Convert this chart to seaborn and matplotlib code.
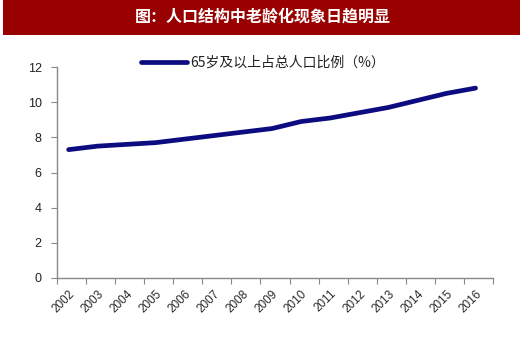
import matplotlib
matplotlib.use("Agg")
import matplotlib.pyplot as plt
import seaborn as sns
import pandas as pd
import numpy as np
from matplotlib.patches import Rectangle

years = ["2002", "2003", "2004", "2005", "2006", "2007", "2008", "2009",
         "2010", "2011", "2012", "2013", "2014", "2015", "2016"]
ratio = [7.3, 7.5, 7.6, 7.7, 7.9, 8.1, 8.3, 8.5, 8.9, 9.1, 9.4, 9.7, 10.1, 10.5, 10.8]
series_name = "65岁及以上占总人口比例（%）"
title = "图：人口结构中老龄化现象日趋明显"
yticks = [0, 2, 4, 6, 8, 10, 12]

sns.set_theme(style="white")
plt.rcParams['font.family'] = ['Noto Sans CJK SC', 'DejaVu Sans']
num_font = ['Liberation Sans', 'DejaVu Sans']

df = pd.DataFrame({"pos": np.arange(len(years)), "val": ratio, "s": series_name})

fig = plt.figure(figsize=(5.2, 3.42), dpi=100)
fig.patch.set_facecolor("white")
fig.patches.append(Rectangle((3/520, 1-35/342), 517/520, 35/342, transform=fig.transFigure,
                             facecolor="#990000", edgecolor="none", zorder=0))
fig.text(263/520, 1-17/342, title, color="white", fontsize=11.5, fontweight="bold",
         ha="center", va="center")

ax = fig.add_axes([57/520, 1-278/342, (493-57)/520, (278-67)/342])
sns.lineplot(data=df, x="pos", y="val", hue="s", palette=["#0c0c80"], linewidth=3.4,
             ax=ax, legend=True)
ax.set_xlim(-0.4, 14.6)
ax.set_ylim(0, 12)
ax.set_yticks(yticks)
ax.set_yticklabels([str(v) for v in yticks], fontsize=9, color="#222222", family=num_font)
ax.set_xticks(np.arange(len(years)))
ax.set_xticklabels(years, rotation=45, ha="right", rotation_mode="anchor",
                   fontsize=8.5, color="#2a2a2a", family=num_font)
ax.set_xticks(np.arange(len(years) + 1) - 0.4, minor=True)
ax.tick_params(axis="x", which="major", length=0, pad=7)
ax.tick_params(axis="x", which="minor", length=4, color="#888888", width=0.8, direction="out", bottom=True)
ax.tick_params(axis="y", length=4, color="#888888", width=0.8, direction="out", left=True, pad=7)
ax.set_xlabel("")
ax.set_ylabel("")
for s in ["top", "right"]:
    ax.spines[s].set_visible(False)
for s in ["left", "bottom"]:
    ax.spines[s].set_color("#888888")
    ax.spines[s].set_linewidth(1.0)

leg = ax.legend(loc="upper left", bbox_to_anchor=(141/520, 1-56/342),
                bbox_transform=fig.transFigure, frameon=False, fontsize=10,
                handlelength=3.3, handletextpad=0.25, borderpad=0, borderaxespad=0)
for line in leg.get_lines():
    line.set_linewidth(3.4)
for t in leg.get_texts():
    t.set_color("#222222")

fig.savefig("out.png", dpi=100)
